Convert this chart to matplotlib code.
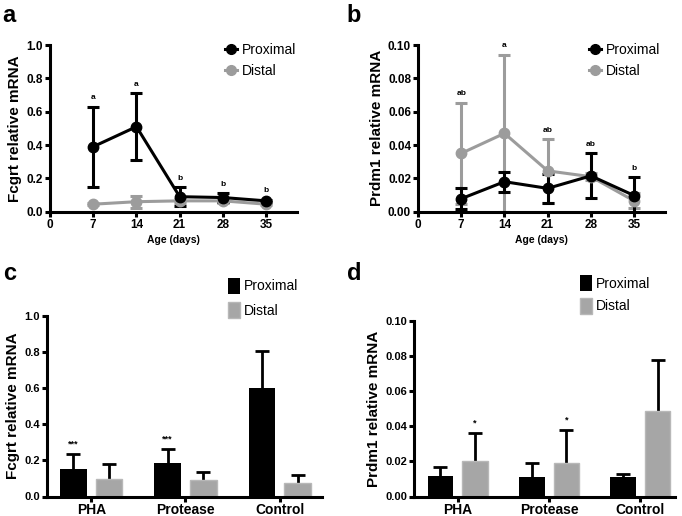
import matplotlib
matplotlib.use('Agg')
import matplotlib.pyplot as plt
from matplotlib.lines import Line2D
import numpy as np

plt.rcParams['font.family'] = ['Liberation Sans', 'DejaVu Sans']

# Panel a/b: time course
days = [7, 14, 21, 28, 35]
fcgrt_prox = [0.39, 0.51, 0.09, 0.085, 0.065]
fcgrt_prox_err = [0.24, 0.20, 0.057, 0.025, 0.008]
fcgrt_dist = [0.045, 0.06, 0.065, 0.065, 0.045]
fcgrt_dist_err = [0.005, 0.035, 0.01, 0.01, 0.005]
fcgrt_letters = ['a', 'a', 'b', 'b', 'b']

prdm_prox = [0.0078, 0.018, 0.014, 0.0215, 0.0097]
prdm_prox_err = [0.0062, 0.006, 0.0085, 0.0135, 0.011]
prdm_dist = [0.035, 0.047, 0.0245, 0.021, 0.0065]
prdm_dist_err = [0.0305, 0.047, 0.019, 0.002, 0.0045]
prdm_letters = ['ab', 'a', 'ab', 'ab', 'b']

# Panel c/d: treatments
groups = ['PHA', 'Protease', 'Control']
c_prox = [0.15, 0.185, 0.60]
c_prox_err = [0.085, 0.077, 0.205]
c_dist = [0.095, 0.093, 0.077]
c_dist_err = [0.083, 0.042, 0.043]
c_stars = ['***', '***', '']

d_prox = [0.0118, 0.011, 0.011]
d_prox_err = [0.0052, 0.008, 0.002]
d_dist = [0.0205, 0.019, 0.049]
d_dist_err = [0.0155, 0.019, 0.029]
d_stars = ['*', '*', '']

BLACK = '#000000'
GRAY = '#9c9c9c'
GRAYBAR = '#a6a6a6'

fig = plt.figure(figsize=(6.82, 5.16), dpi=100)
W, H = 682.0, 516.0


def add_ax(l, r, t, b):
    return fig.add_axes([l / W, 1 - b / H, (r - l) / W, (b - t) / H])


def style(ax):
    for s in ['top', 'right']:
        ax.spines[s].set_visible(False)
    for s in ['left', 'bottom']:
        ax.spines[s].set_linewidth(2.2)
    ax.tick_params(width=2.2, length=3.5, pad=1.5)
    for lab in ax.get_xticklabels() + ax.get_yticklabels():
        lab.set_fontweight('bold')


def line_panel(ax, prox, prox_err, dist, dist_err, letters, ymax, fmt, ylabel):
    ax.errorbar(days, dist, yerr=dist_err, color=GRAY, marker='o', ms=7.5,
                lw=2.2, capsize=4.5, capthick=2.2, elinewidth=2.2)
    ax.errorbar(days, prox, yerr=prox_err, color=BLACK, marker='o', ms=7.5,
                lw=2.2, capsize=4.5, capthick=2.2, elinewidth=2.2)
    for x, y, e, d, de, t in zip(days, prox, prox_err, dist, dist_err, letters):
        top = max(y + e, d + de)
        ax.annotate(t, (x, top), xytext=(0, 4), textcoords='offset points',
                    ha='center', va='bottom', fontsize=6, fontweight='bold')
    ax.set_xlim(0, 40)
    ax.set_ylim(0, ymax)
    ax.set_xticks([0, 7, 14, 21, 28, 35])
    ax.set_yticks(np.linspace(0, ymax, 6))
    ax.yaxis.set_major_formatter(matplotlib.ticker.FormatStrFormatter(fmt))
    ax.set_xlabel('Age (days)', fontsize=7.5, fontweight='bold', labelpad=3)
    ax.set_ylabel(ylabel, fontsize=11, fontweight='bold', labelpad=3)
    ax.tick_params(labelsize=8.5)
    style(ax)
    h = [Line2D([], [], color=BLACK, marker='o', ms=7, lw=2.2),
         Line2D([], [], color=GRAY, marker='o', ms=7, lw=2.2)]
    return h, ['Proximal', 'Distal']


def bar_panel(ax, prox, prox_err, dist, dist_err, ymax, fmt, ylabel, xlim):
    x = np.arange(len(groups))
    off, w = 0.19, 0.28
    b1 = ax.bar(x - off, prox, w, color=BLACK, label='Proximal', zorder=2)
    b2 = ax.bar(x + off, dist, w, color=GRAYBAR, edgecolor='#b8b8b8', lw=1,
                label='Distal', zorder=2)
    # upward-only error bars with a cap on top
    for xs, v, e in [(x - off, prox, prox_err), (x + off, dist, dist_err)]:
        tops = np.array(v) + np.array(e)
        ax.vlines(xs, v, tops, color='black', lw=2.0, zorder=1)
        ax.plot(xs, tops, ls='none', marker='_', ms=10, mew=2.0, color='black', zorder=1)
    ax.set_xlim(*xlim)
    ax.set_ylim(0, ymax)
    ax.set_xticks(x)
    ax.set_xticklabels(groups)
    ax.set_yticks(np.linspace(0, ymax, 6))
    ax.yaxis.set_major_formatter(matplotlib.ticker.FormatStrFormatter(fmt))
    ax.set_ylabel(ylabel, fontsize=11, fontweight='bold', labelpad=3)
    ax.tick_params(axis='y', labelsize=8)
    ax.tick_params(axis='x', labelsize=10)
    style(ax)
    return [b1, b2], ['Proximal', 'Distal']


leg_kw = dict(bbox_transform=fig.transFigure, frameon=False, fontsize=10,
              borderpad=0, borderaxespad=0, loc='center left')

ax_a = add_ax(50, 297, 45, 211.7)
h, l = line_panel(ax_a, fcgrt_prox, fcgrt_prox_err, fcgrt_dist, fcgrt_dist_err,
                  fcgrt_letters, 1.0, '%.1f', 'Fcgrt relative mRNA')
ax_a.legend(h, l, bbox_to_anchor=(225 / W, 1 - 60.5 / H), handlelength=0.85,
            handletextpad=0.35, labelspacing=0.55, **leg_kw)

ax_b = add_ax(418, 665, 45, 211.7)
h, l = line_panel(ax_b, prdm_prox, prdm_prox_err, prdm_dist, prdm_dist_err,
                  prdm_letters, 0.10, '%.2f', 'Prdm1 relative mRNA')
ax_b.legend(h, l, bbox_to_anchor=(589 / W, 1 - 60.5 / H), handlelength=0.85,
            handletextpad=0.35, labelspacing=0.55, **leg_kw)

ax_c = add_ax(47, 322, 315.7, 496.5)
h, l = bar_panel(ax_c, c_prox, c_prox_err, c_dist, c_dist_err, 1.0, '%.1f',
                 'Fcgrt relative mRNA', (-0.47, 2.45))
for i, s in enumerate(c_stars):
    if s:
        ax_c.annotate(s, (i - 0.19, c_prox[i] + c_prox_err[i]), xytext=(0, 4),
                      textcoords='offset points', ha='center', va='bottom',
                      fontsize=6.5, fontweight='bold')
ax_c.legend(h, l, bbox_to_anchor=(228 / W, 1 - 298 / H), handlelength=0.85,
            handleheight=1.4, handletextpad=0.3, labelspacing=0.6, **leg_kw)

ax_d = add_ax(414, 675, 321, 496.5)
h, l = bar_panel(ax_d, d_prox, d_prox_err, d_dist, d_dist_err, 0.10, '%.2f',
                 'Prdm1 relative mRNA', (-0.48, 2.38))
for i, s in enumerate(d_stars):
    if s:
        ax_d.annotate(s, (i + 0.19, d_dist[i] + d_dist_err[i]), xytext=(0, 4),
                      textcoords='offset points', ha='center', va='bottom',
                      fontsize=6.5, fontweight='bold')
ax_d.legend(h, l, bbox_to_anchor=(580 / W, 1 - 294.5 / H), handlelength=0.85,
            handleheight=1.4, handletextpad=0.3, labelspacing=0.45, **leg_kw)

# panel letters
for txt, x, y in [('a', 2, 15), ('b', 346, 15), ('c', 3, 273), ('d', 347, 273)]:
    fig.text(x / W, 1 - y / H, txt, fontsize=17, fontweight='bold', va='center', ha='left')

fig.savefig('out.png', dpi=100)
